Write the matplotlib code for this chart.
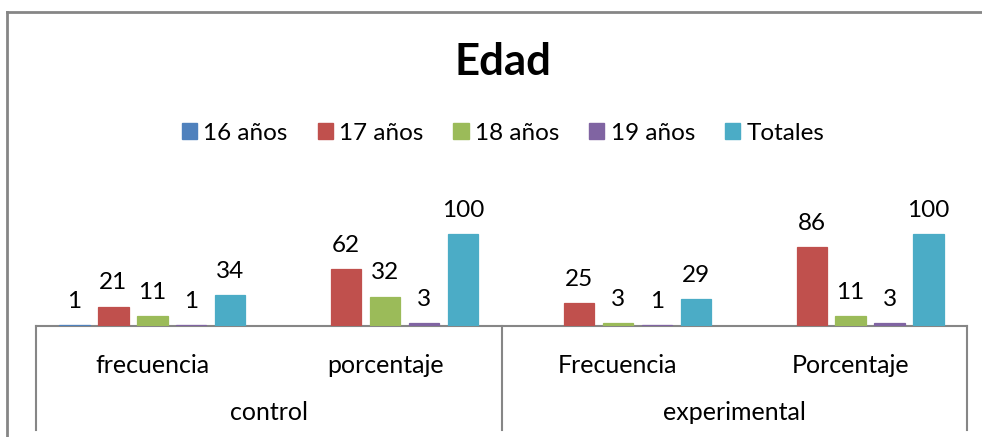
import numpy as np
import matplotlib.pyplot as plt
from matplotlib.lines import Line2D
import matplotlib.transforms as mtrans

plt.rcParams['font.family'] = ['Lato', 'DejaVu Sans']

# chart data
categories = ['frecuencia', 'porcentaje', 'Frecuencia', 'Porcentaje']
groups = ['control', 'experimental']
series_names = ['16 años', '17 años', '18 años', '19 años', 'Totales']
v16 = [1, np.nan, np.nan, np.nan]
v17 = [21, 62, 25, 86]
v18 = [11, 32, 3, 11]
v19 = [1, 3, 1, 3]
vtot = [34, 100, 29, 100]
colors = ['#4F81BD', '#C0504D', '#9BBB59', '#8064A2', '#4BACC6']

W, H = 982, 437
fig = plt.figure(figsize=(W / 100, H / 100), dpi=100)
ax_h = 110.4
ax = fig.add_axes([36 / W, (H - 326) / H, 931 / W, ax_h / H])

x = np.arange(len(categories))
step = 0.1675
bw = 0.13
handles = []
for i, (vals, c) in enumerate(zip([v16, v17, v18, v19, vtot], colors)):
    pos = x + (i - 2) * step
    vals = np.array(vals, dtype=float)
    ok = ~np.isnan(vals)
    ax.bar(pos[ok], vals[ok], width=bw, color=c, edgecolor=c, linewidth=0.9, zorder=3)
    for p, v in zip(pos[ok], vals[ok]):
        ax.annotate('%d' % v, (p, v), xytext=(0, 9.5), textcoords='offset points',
                    ha='center', va='bottom', fontsize=17.5, color='black')
    handles.append(plt.Rectangle((0, 0), 1, 1, color=c))

ax.set_xlim(-0.5, len(categories) - 0.5)
ax.set_ylim(0, 120)
for s in ['top', 'right', 'left']:
    ax.spines[s].set_visible(False)
ax.spines['bottom'].set_color('#868686')
ax.spines['bottom'].set_linewidth(1.5)
ax.spines['bottom'].set_zorder(2)
ax.set_yticks([])
ax.set_xticks(x, categories, fontsize=18)
ax.tick_params(axis='x', length=0, pad=20)

# second level of the category axis
tr = mtrans.blended_transform_factory(ax.transData, ax.transAxes)
for g, name in enumerate(groups):
    ax.text(2 * g + 0.5, -86 / ax_h, name, transform=tr, ha='center', va='center',
            fontsize=18)
for b in [-0.5, 1.5, 3.5]:
    ax.add_line(Line2D([b, b], [0, -104 / ax_h], transform=tr, color='#868686',
                       lw=1.5, clip_on=False))

cx = 503 / W
fig.text(cx, (H - 62) / H, 'Edad', ha='center', va='center', fontsize=31.5,
         fontweight='bold')
fig.legend(handles, series_names, loc='center', bbox_to_anchor=(cx, (H - 133) / H),
           ncol=5, frameon=False, fontsize=17.5, handlelength=0.62, handleheight=0.62,
           handletextpad=0.25, columnspacing=1.25)

# outer chart frame
fig.add_artist(Line2D([7 / W, 7 / W], [0, (H - 12) / H], transform=fig.transFigure,
                      color='#868686', lw=2))
fig.add_artist(Line2D([7 / W, 1], [(H - 12) / H, (H - 12) / H], transform=fig.transFigure,
                      color='#868686', lw=2))

fig.savefig('out.png', dpi=100)
